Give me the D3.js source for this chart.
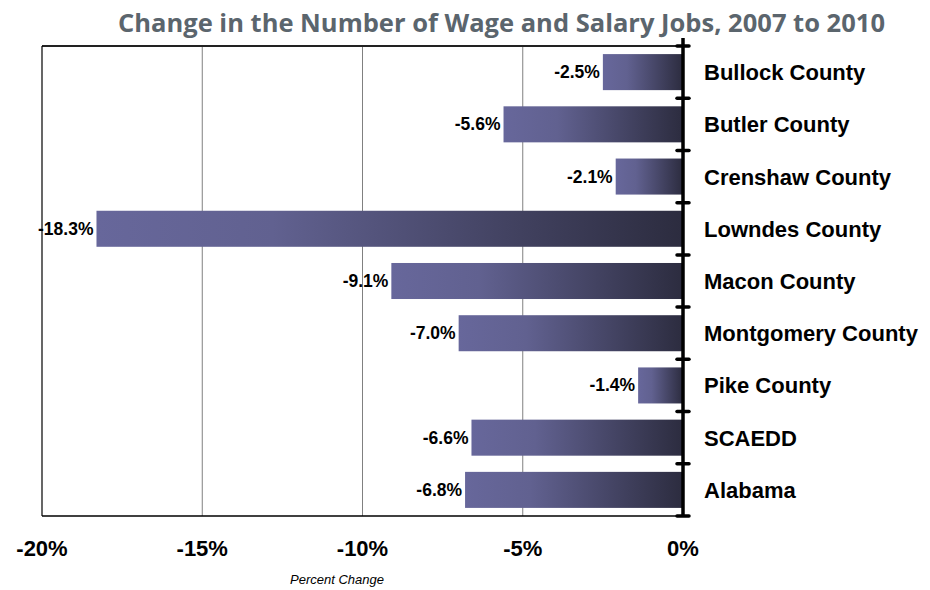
<!DOCTYPE html>
<html lang='en'>
<head>
  <meta charset='UTF-8'>
  <title>Wage and Salary Jobs</title>
  <style>
    * { margin: 0; padding: 0; }
    body { background: #fff; }
    #chart { width: 930px; height: 590px; }
  </style>
</head>
<body>
<script src='https://cdn.jsdelivr.net/npm/d3@7'></script>
<div id='chart'></div>
<script>
  const categories = ['Bullock County', 'Butler County', 'Crenshaw County', 'Lowndes County', 'Macon County',
    'Montgomery County', 'Pike County', 'SCAEDD', 'Alabama']
  const values = [-2.5, -5.6, -2.1, -18.3, -9.1, -7.0, -1.4, -6.6, -6.8]
  const xTicks = [-20, -15, -10, -5, 0]

  let width = 930
  let height = 590
  let plot = {left: 42, right: 683, top: 46, bottom: 516}

  let svg = d3.select('#chart')
  .append('svg')
  .attr('width', width)
  .attr('height', height)

  svg.append('rect').attr('width', width).attr('height', height).style('fill', '#fff')

  // gradient for bars
  let grad = svg.append('defs').append('linearGradient')
  .attr('id', 'barGrad')
  .attr('x1', '0%').attr('x2', '100%').attr('y1', '0%').attr('y2', '0%')
  grad.append('stop').attr('offset', '0%').attr('stop-color', '#67679b')
  grad.append('stop').attr('offset', '30%').attr('stop-color', '#616190')
  grad.append('stop').attr('offset', '100%').attr('stop-color', '#2c2c3f')

  let x = d3.scaleLinear().domain([-20, 0]).range([plot.left, plot.right])
  let y = d3.scaleBand().domain(categories).range([plot.top, plot.bottom]).paddingInner(0.31).paddingOuter(0.155)

  // title
  svg.append('text')
  .attr('x', 118).attr('y', 32)
  .attr('textLength', 767)
  .attr('lengthAdjust', 'spacingAndGlyphs')
  .style('font-family', 'Open Sans, sans-serif')
  .style('font-weight', 'bold')
  .style('font-size', '25px')
  .style('fill', '#5b656d')
  .text('Change in the Number of Wage and Salary Jobs, 2007 to 2010')

  // grid lines
  svg.append('g').selectAll('line')
  .data(xTicks.slice(1, -1))
  .join('line')
  .attr('x1', d => x(d)).attr('x2', d => x(d))
  .attr('y1', plot.top).attr('y2', plot.bottom)
  .attr('stroke', '#808080').attr('stroke-width', 1)

  // frame
  svg.append('line').attr('x1', plot.left).attr('x2', plot.right).attr('y1', plot.top).attr('y2', plot.top)
  .attr('stroke', '#222').attr('stroke-width', 2)
  svg.append('line').attr('x1', plot.left).attr('x2', plot.right).attr('y1', plot.bottom).attr('y2', plot.bottom)
  .attr('stroke', '#000').attr('stroke-width', 1.5)
  svg.append('line').attr('x1', plot.left).attr('x2', plot.left).attr('y1', plot.top).attr('y2', plot.bottom)
  .attr('stroke', '#000').attr('stroke-width', 1.2)

  // bars
  svg.append('g').selectAll('rect')
  .data(values)
  .join('rect')
  .attr('x', d => x(d))
  .attr('y', (d, i) => y(categories[i]))
  .attr('width', d => x(0) - x(d))
  .attr('height', y.bandwidth())
  .attr('fill', 'url(#barGrad)')

  // value labels
  svg.append('g').selectAll('text')
  .data(values)
  .join('text')
  .attr('x', d => x(d) - 3)
  .attr('y', (d, i) => y(categories[i]) + y.bandwidth() / 2 + 6)
  .attr('text-anchor', 'end')
  .style('font-family', 'Liberation Sans, Arial, sans-serif')
  .style('font-weight', 'bold')
  .style('font-size', '17.5px')
  .text(d => d.toFixed(1) + '%')

  // zero axis
  svg.append('line').attr('x1', x(0)).attr('x2', x(0)).attr('y1', plot.top - 8).attr('y2', plot.bottom)
  .attr('stroke', '#000').attr('stroke-width', 3.5)
  let bounds = categories.map(c => y(c) - y.step() * y.paddingInner() / 2).concat([plot.bottom])
  svg.append('g').selectAll('line')
  .data(bounds)
  .join('line')
  .attr('x1', x(0) - 6).attr('x2', x(0) + 6)
  .attr('y1', d => d).attr('y2', d => d)
  .attr('stroke', '#000').attr('stroke-width', 3.5).attr('stroke-linecap', 'round')

  // category labels
  svg.append('g').selectAll('text')
  .data(categories)
  .join('text')
  .attr('x', x(0) + 21)
  .attr('y', d => y(d) + y.bandwidth() / 2 + 8)
  .style('font-family', 'Liberation Sans, Arial, sans-serif')
  .style('font-weight', 'bold')
  .style('font-size', '22px')
  .text(d => d)

  // x axis labels
  svg.append('g').selectAll('text')
  .data(xTicks)
  .join('text')
  .attr('x', d => x(d))
  .attr('y', 556)
  .attr('text-anchor', 'middle')
  .style('font-family', 'Liberation Sans, Arial, sans-serif')
  .style('font-weight', 'bold')
  .style('font-size', '22px')
  .text(d => d + '%')

  svg.append('text')
  .attr('x', 337).attr('y', 584)
  .attr('text-anchor', 'middle')
  .style('font-family', 'Liberation Sans, Arial, sans-serif')
  .style('font-style', 'italic')
  .style('font-size', '13px')
  .text('Percent Change')
</script>
</body>
</html>
